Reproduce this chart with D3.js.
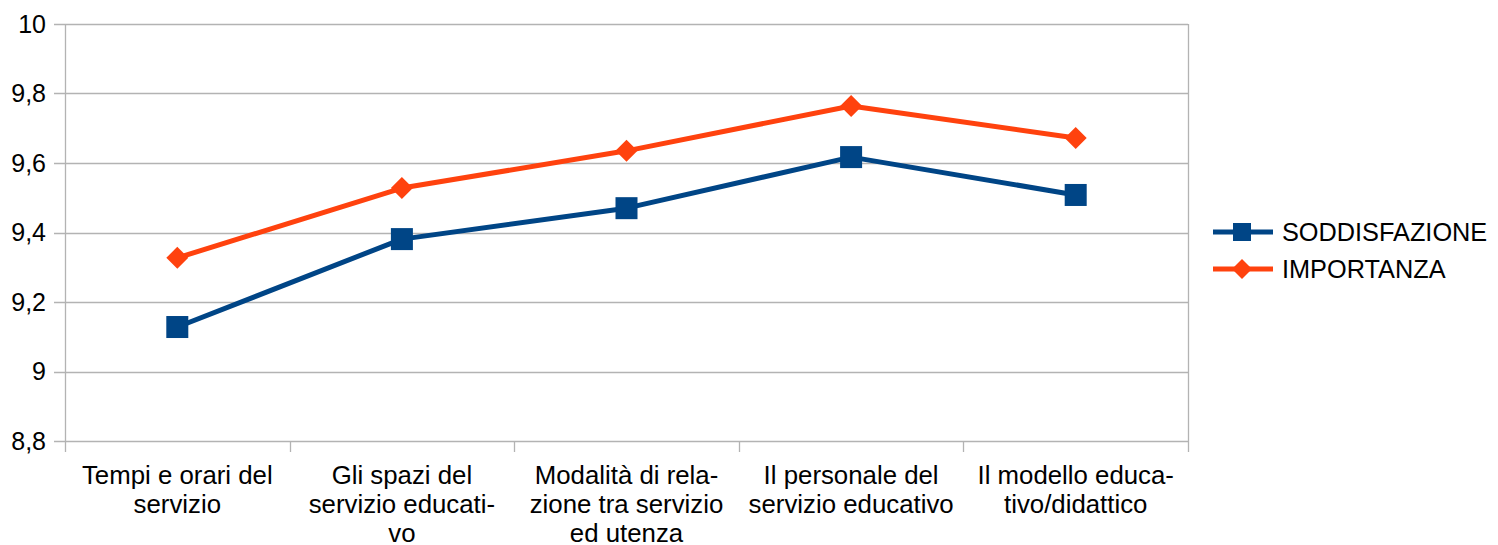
<!DOCTYPE html>
<html>
<head>
<meta charset="utf-8">
<script src="https://cdn.jsdelivr.net/npm/d3@7"></script>
<style>
  body { margin: 0; background: #fff; }
  text { font-family: "Liberation Sans", Arial, sans-serif; fill: #000; }
</style>
</head>
<body>
<svg id="chart" width="1498" height="545"></svg>
<script>
// data
var categories = ["Tempi e orari del servizio", "Gli spazi del servizio educativo",
    "Modalità di relazione tra servizio ed utenza", "Il personale del servizio educativo",
    "Il modello educativo/didattico"];
// wrapped labels as shown in the chart
var categoryLines = [
    ["Tempi e orari del", "servizio"],
    ["Gli spazi del", "servizio educati-", "vo"],
    ["Modalità di rela-", "zione tra servizio", "ed utenza"],
    ["Il personale del", "servizio educativo"],
    ["Il modello educa-", "tivo/didattico"]
];
var soddisfazione = [9.128, 9.381, 9.470, 9.617, 9.508];
var importanza = [9.327, 9.528, 9.635, 9.764, 9.672];
var yTicks = [8.8, 9, 9.2, 9.4, 9.6, 9.8, 10];
var seriesNames = ["SODDISFAZIONE", "IMPORTANZA"];
var seriesColors = ["#004586", "#ff420e"];

var margin = {top: 24, left: 65},
    width = 1123,
    height = 417;

var svg = d3.select("#chart")
    .append("g")
    .attr("transform", "translate(" + margin.left + "," + margin.top + ")");

var x = d3.scaleBand()
    .domain(categories)
    .range([0, width]);

var y = d3.scaleLinear()
    .domain([8.8, 10])
    .range([height, 0]);

var fmt = function(d) { return String(d).replace(".", ","); };

// gridlines
svg.selectAll(".grid")
    .data(yTicks)
    .enter().append("line")
    .attr("class", "grid")
    .attr("x1", -11)
    .attr("x2", width)
    .attr("y1", function(d) { return Math.round(y(d)) + 0.5; })
    .attr("y2", function(d) { return Math.round(y(d)) + 0.5; })
    .attr("stroke", "#b3b3b3")
    .attr("stroke-width", 1.3);

// y labels
svg.selectAll(".ylab")
    .data(yTicks)
    .enter().append("text")
    .attr("class", "ylab")
    .attr("x", -19)
    .attr("y", function(d) { return y(d); })
    .attr("dy", "0.35em")
    .attr("text-anchor", "end")
    .style("font-size", "25px")
    .text(fmt);

// left axis line + right border
svg.append("line")
    .attr("x1", 0.5).attr("x2", 0.5)
    .attr("y1", 0).attr("y2", height + 11)
    .attr("stroke", "#b3b3b3").attr("stroke-width", 1.3);
svg.append("line")
    .attr("x1", width + 0.5).attr("x2", width + 0.5)
    .attr("y1", 0).attr("y2", height + 11)
    .attr("stroke", "#b3b3b3").attr("stroke-width", 1.3);

// x ticks at band boundaries
var bounds = categories.map(function(c) { return x(c); }).slice(1);
svg.selectAll(".xtick")
    .data(bounds)
    .enter().append("line")
    .attr("class", "xtick")
    .attr("x1", function(d) { return Math.round(d) + 0.5; })
    .attr("x2", function(d) { return Math.round(d) + 0.5; })
    .attr("y1", height)
    .attr("y2", height + 11)
    .attr("stroke", "#b3b3b3").attr("stroke-width", 1.3);

// x labels
var xlab = svg.selectAll(".xlab")
    .data(categories)
    .enter().append("text")
    .attr("class", "xlab")
    .attr("text-anchor", "middle")
    .style("font-size", "25.8px")
    .attr("transform", function(d) {
        return "translate(" + (x(d) + x.bandwidth() / 2) + "," + (height + 43) + ")";
    });
xlab.selectAll("tspan")
    .data(function(d, i) { return categoryLines[i]; })
    .enter().append("tspan")
    .attr("x", 0)
    .attr("y", function(d, i) { return i * 29; })
    .text(function(d) { return d; });

// lines
var line = d3.line()
    .x(function(d, i) { return x(categories[i]) + x.bandwidth() / 2; })
    .y(function(d) { return y(d); });

var allSeries = [soddisfazione, importanza];

allSeries.forEach(function(vals, s) {
    svg.append("path")
        .datum(vals)
        .attr("d", line)
        .attr("fill", "none")
        .attr("stroke", seriesColors[s])
        .attr("stroke-width", 5)
        .attr("stroke-linejoin", "round");
});

// markers
svg.selectAll(".sq")
    .data(soddisfazione)
    .enter().append("rect")
    .attr("class", "sq")
    .attr("x", function(d, i) { return x(categories[i]) + x.bandwidth() / 2 - 11; })
    .attr("y", function(d) { return y(d) - 11; })
    .attr("width", 22)
    .attr("height", 22)
    .attr("fill", seriesColors[0]);

var diamond = "M0,-11L11,0L0,11L-11,0Z";
svg.selectAll(".dm")
    .data(importanza)
    .enter().append("path")
    .attr("class", "dm")
    .attr("d", diamond)
    .attr("transform", function(d, i) {
        return "translate(" + (x(categories[i]) + x.bandwidth() / 2) + "," + y(d) + ")";
    })
    .attr("fill", seriesColors[1]);

// legend
var legend = d3.select("#chart").append("g")
    .attr("transform", "translate(1213,232)");

seriesNames.forEach(function(name, s) {
    var g = legend.append("g").attr("transform", "translate(0," + (s * 37) + ")");
    g.append("line")
        .attr("x1", 0).attr("x2", 60)
        .attr("y1", 0).attr("y2", 0)
        .attr("stroke", seriesColors[s])
        .attr("stroke-width", 5);
    if (s === 0) {
        g.append("rect")
            .attr("x", 20).attr("y", -9)
            .attr("width", 18).attr("height", 18)
            .attr("fill", seriesColors[s]);
    } else {
        g.append("path")
            .attr("d", "M0,-10L10,0L0,10L-10,0Z")
            .attr("transform", "translate(29,0)")
            .attr("fill", seriesColors[s]);
    }
    g.append("text")
        .attr("x", 69)
        .attr("y", 0)
        .attr("dy", "0.35em")
        .style("font-size", "25.3px")
        .text(name);
});
</script>
</body>
</html>
